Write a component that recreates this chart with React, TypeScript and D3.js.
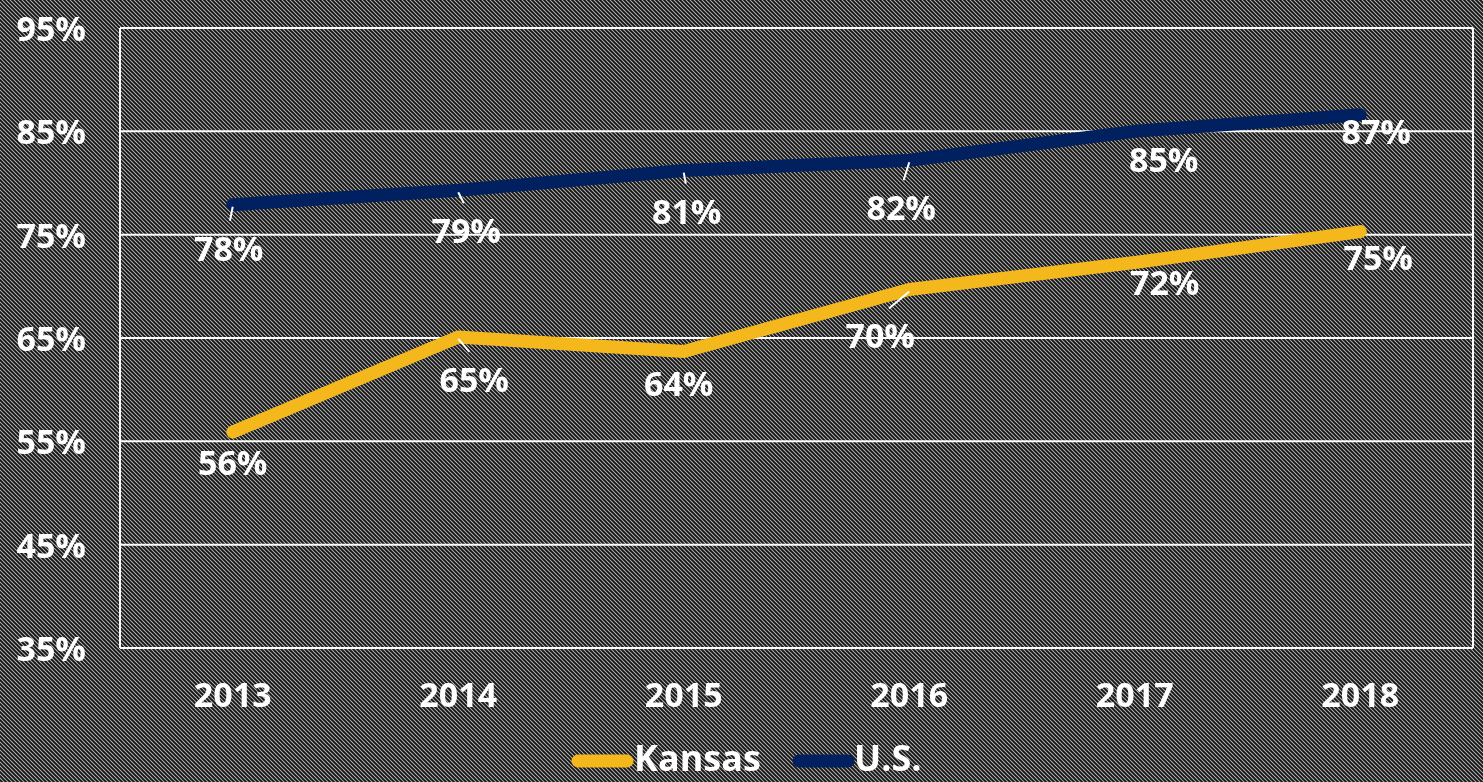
import React from 'react'
import * as d3 from 'd3'

const years = ['2013', '2014', '2015', '2016', '2017', '2018']
const kansas = [55.9, 65.1, 63.7, 69.7, 72.3, 75.3]
const us = [77.9, 79.3, 81.2, 82.2, 85.0, 86.6]
const kansasLabels = ['56%', '65%', '64%', '70%', '72%', '75%']
const usLabels = ['78%', '79%', '81%', '82%', '85%', '87%']
const yTicks = [35, 45, 55, 65, 75, 85, 95]

// label offsets from the point (layout only), and leader-line flags
const usOffsets = [[-4, 43], [8, 40], [3, 40], [-8, 47], [29, 28], [16, 16]]
const kansasOffsets = [[0, 30], [16, 42], [-5, 32], [-29, 46], [30, 19], [18, 25]]
const usLeaders = [true, true, true, true, false, false]
const kansasLeaders = [false, true, false, true, false, false]

const W = 1483
const H = 782
const margin = { top: 28, right: 10, bottom: 134, left: 120 }
const FONT = "'Open Sans', sans-serif"
const KANSAS_COLOR = '#f4b81c'
const US_COLOR = '#002060'

const App = () => {
  let x = d3.scalePoint().domain(years).range([margin.left, W - margin.right]).padding(0.5)
  let y = d3.scaleLinear().domain([35, 95]).range([H - margin.bottom, margin.top])
  let line = d3.line<number>().x((d, i) => x(years[i]) as number).y(d => y(d))

  const series = [
    { name: 'Kansas', values: kansas, labels: kansasLabels, offsets: kansasOffsets, leaders: kansasLeaders, color: KANSAS_COLOR },
    { name: 'U.S.', values: us, labels: usLabels, offsets: usOffsets, leaders: usLeaders, color: US_COLOR },
  ]

  return (
    <svg width={W} height={H} style={{ position: 'fixed', left: 0, top: 0 }}>
      <defs>
        <pattern id="bg" patternUnits="userSpaceOnUse" width={4} height={4}>
          <rect width={4} height={4} fill="#b4b4b4" />
          <path d="M-1,-1 L5,5 M-1,3 L1,5 M3,-1 L5,1" stroke="#141414" strokeWidth={1.9} />
        </pattern>
      </defs>
      <rect width={W} height={H} fill="url(#bg)" />

      {/* grid */}
      {yTicks.map(t => (
        <line key={t} x1={margin.left} x2={W - margin.right} y1={y(t)} y2={y(t)} stroke="#fff" strokeWidth={2} />
      ))}
      <line x1={margin.left} x2={margin.left} y1={y(95)} y2={y(35)} stroke="#fff" strokeWidth={2} />
      <line x1={W - margin.right} x2={W - margin.right} y1={y(95)} y2={y(35)} stroke="#fff" strokeWidth={2} />

      {/* y labels */}
      {yTicks.map(t => (
        <text key={t} x={86} y={y(t)} dominantBaseline="central" textAnchor="end"
          fill="#fff" fontFamily={FONT} fontWeight={700} fontSize={34}>{t}%</text>
      ))}
      {/* x labels */}
      {years.map(yr => (
        <text key={yr} x={x(yr)} y={694} dominantBaseline="central" textAnchor="middle"
          fill="#fff" fontFamily={FONT} fontWeight={700} fontSize={34}>{yr}</text>
      ))}

      {series.map(s => (
        <g key={s.name}>
          <path d={line(s.values) as string} fill="none" stroke={s.color} strokeWidth={13}
            strokeLinecap="round" strokeLinejoin="round" />
          {s.values.map((v, i) => {
            const px = x(years[i]) as number
            const py = y(v)
            const [dx, dy] = s.offsets[i]
            return (
              <g key={i}>
                {s.leaders[i] && (
                  <line x1={px} y1={py + 2} x2={px + dx * 0.7} y2={py + dy - 27}
                    stroke="#fff" strokeWidth={2} />
                )}
                <text x={px + dx} y={py + dy} dominantBaseline="central" textAnchor="middle"
                  fill="#fff" fontFamily={FONT} fontWeight={700} fontSize={34}>{s.labels[i]}</text>
              </g>
            )
          })}
        </g>
      ))}

      {/* legend */}
      <g>
        <line x1={578} x2={627} y1={761} y2={761} stroke={KANSAS_COLOR} strokeWidth={13} strokeLinecap="round" />
        <text x={634} y={771} fill="#fff" fontFamily={FONT} fontWeight={700} fontSize={36}>Kansas</text>
        <line x1={799} x2={848} y1={761} y2={761} stroke={US_COLOR} strokeWidth={13} strokeLinecap="round" />
        <text x={854} y={771} fill="#fff" fontFamily={FONT} fontWeight={700} fontSize={36}>U.S.</text>
      </g>
    </svg>
  )
}

export default App
